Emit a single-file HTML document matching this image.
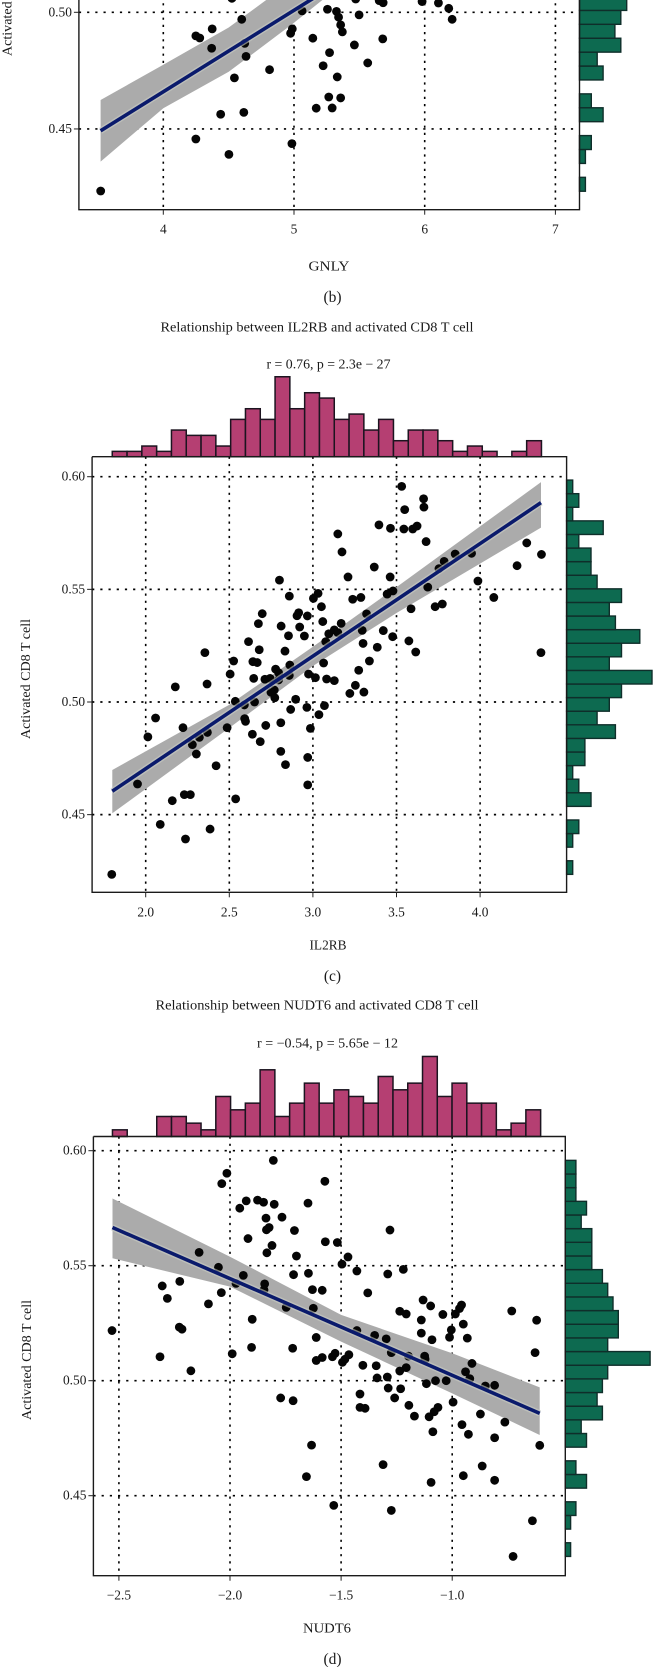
<!DOCTYPE html>
<html lang="en">
<head>
<meta charset="utf-8">
<title>Relationship between genes and activated CD8 T cell</title>
<style>
html,body{margin:0;padding:0;background:#fff;width:672px;height:1667px;overflow:hidden}
svg{display:block}
text{font-family:"Liberation Serif",serif;font-size:13.4px;fill:#1a1a1a}
</style>
</head>
<body>
<svg id="figure" xmlns="http://www.w3.org/2000/svg" width="672" height="1667" viewBox="0 0 672 1667">
<rect x="0" y="0" width="672" height="1667" fill="#ffffff"/>
</svg>
<script>
// Panel (b) GNLY
const gnlyX = [4.525,5.472,5.652,5.682,5.980,6.105,6.184,6.210,5.256,5.325,5.341,5.357,5.370,5.498,5.062,4.600,4.374,4.249,4.279,4.987,4.974,5.144,5.679,4.623,4.370,5.462,5.272,4.633,5.564,5.223,4.813,4.544,5.331,5.266,5.357,5.170,5.292,4.439,4.616,4.249,4.984,4.502,3.521];
const gnlyY = [.5060,.5057,.5050,.5041,.5046,.5040,.5017,.4970,.5013,.5004,.4979,.4946,.4916,.4989,.5006,.4970,.4929,.4899,.4890,.4929,.4910,.4889,.4886,.4867,.4846,.4860,.4827,.4811,.4783,.4771,.4754,.4719,.4723,.4637,.4633,.4589,.4590,.4563,.4571,.4457,.4437,.4391,.4234];
const gnlyXTicks = [4,5,6,7];
const gnlyXTickLabels = ["4","5","6","7"];
const gnlyYTicks = [0.45,0.50];
const gnlyYTickLabels = ["0.45","0.50"];
const gnlyFitX = [3.52,5.6];
const gnlyFitY = [.4492,.5218];
const gnlyBandX = [3.52,4,4.5,5,5.5];
const gnlyBandUpper = [.4624,.4775,.4935,.5140,.5380];
const gnlyBandLower = [.4360,.4589,.4745,.4955,.5180];
const gnlyRightHist = [1,0,1,2,0,4,2,0,4,3,7,6,7,8,9,7];

// Panel (c) IL2RB
const il2rbX = [3.531,3.662,3.664,3.549,3.395,3.464,3.544,3.597,3.623,3.149,3.677,3.174,4.279,4.367,3.851,3.949,3.785,3.754,4.221,3.367,2.800,3.210,3.462,3.987,3.687,3.479,3.444,2.859,3.031,3.003,3.238,3.287,4.082,3.051,3.774,3.731,3.587,2.697,2.915,2.905,2.967,3.321,2.674,2.810,2.921,3.059,3.169,2.854,2.949,3.095,3.128,3.149,3.295,3.421,3.477,2.615,3.077,3.574,3.300,3.385,2.679,2.833,3.615,2.354,4.364,3.064,3.338,2.526,2.641,2.667,2.862,2.777,3.274,2.795,2.505,2.974,2.859,2.646,2.713,2.744,3.015,3.082,3.128,2.367,2.177,3.254,2.795,2.769,2.749,3.221,3.305,2.772,2.897,2.536,2.651,2.590,2.964,3.069,2.867,3.036,2.059,2.592,2.597,2.808,2.718,2.223,2.487,2.985,2.013,2.369,2.321,2.638,2.685,2.279,2.808,2.303,2.969,2.421,2.836,1.951,2.969,2.159,2.231,2.267,2.538,2.087,2.385,2.238,1.797];
const il2rbY = [.5957,.5902,.5865,.5854,.5786,.5771,.5768,.5768,.5781,.5746,.5712,.5666,.5706,.5655,.5657,.5660,.5624,.5592,.5605,.5599,.5541,.5555,.5555,.5537,.5510,.5493,.5479,.5470,.5482,.5460,.5456,.5464,.5464,.5423,.5435,.5423,.5414,.5392,.5396,.5383,.5382,.5391,.5348,.5337,.5333,.5357,.5349,.5294,.5293,.5303,.5320,.5308,.5318,.5317,.5290,.5268,.5268,.5271,.5260,.5243,.5232,.5226,.5222,.5219,.5219,.5173,.5182,.5182,.5179,.5175,.5164,.5146,.5141,.5130,.5124,.5124,.5118,.5105,.5101,.5105,.5108,.5102,.5095,.5080,.5067,.5074,.5098,.5053,.5043,.5038,.5044,.5019,.5012,.5003,.5000,.4987,.4976,.4984,.4967,.4944,.4929,.4926,.4914,.4908,.4896,.4886,.4886,.4883,.4845,.4865,.4843,.4857,.4824,.4811,.4781,.4769,.4754,.4717,.4722,.4636,.4632,.4562,.4589,.4589,.4570,.4457,.4436,.4392,.4235];
const il2rbXTicks = [2,2.5,3,3.5,4];
const il2rbXTickLabels = ["2.0","2.5","3.0","3.5","4.0"];
const il2rbYTicks = [0.45,0.50,0.55,0.60];
const il2rbYTickLabels = ["0.45","0.50","0.55","0.60"];
const il2rbFitX = [1.8,4.364];
const il2rbFitY = [.4604,.5885];
const il2rbBandX = [1.8,2.5,3,3.5,4.364];
const il2rbBandUpper = [.4698,.4988,.5245,.5510,.5976];
const il2rbBandLower = [.4506,.4885,.5160,.5395,.5774];
const il2rbTopHist = [1,1,2,1,5,4,4,2,7,9,7,15,9,12,11,7,8,5,7,3,5,5,3,1,2,1,0,1,3];
const il2rbRightHist = [1,0,1,2,0,4,2,1,3,3,8,5,7,9,14,7,9,12,8,7,9,5,4,4,2,6,1,2,1];

// Panel (d) NUDT6
const nudt6X = [-1.805,-2.014,-2.037,-1.573,-1.927,-1.876,-1.849,-1.801,-1.956,-1.649,-1.766,-1.838,-1.710,-1.824,-1.836,-1.280,-1.919,-1.811,-1.571,-1.517,-1.834,-2.139,-1.701,-1.469,-1.496,-2.052,-1.429,-1.220,-1.290,-1.714,-1.647,-1.940,-2.226,-2.305,-1.973,-1.844,-1.847,-1.629,-1.585,-2.039,-1.380,-2.282,-2.097,-1.747,-1.625,-1.131,-1.097,-.958,-.967,-1.236,-1.207,-1.042,-.986,-.732,-.620,-1.139,-1.900,-.950,-2.228,-2.216,-2.531,-1.429,-1.004,-1.139,-1.349,-1.297,-1.612,-1.012,-.932,-1.091,-.627,-1.990,-2.315,-1.903,-1.718,-1.585,-1.612,-1.539,-1.527,-1.465,-1.494,-1.483,-1.274,-1.197,-1.124,-1.122,-.911,-1.402,-1.342,-1.207,-1.236,-2.176,-.940,-1.338,-1.292,-.921,-1.075,-1.027,-1.116,-1.288,-1.232,-.851,-.809,-1.415,-1.772,-1.716,-1.259,-1.195,-.996,-1.415,-1.392,-1.064,-1.081,-1.104,-1.170,-.873,-.763,-.956,-1.087,-.927,-.809,-1.633,-.606,-1.311,-.865,-1.656,-.950,-.809,-1.095,-1.533,-1.274,-.639,-.726];
const nudt6Y = [.5958,.5902,.5857,.5867,.5782,.5785,.5776,.5767,.5750,.5772,.5711,.5707,.5653,.5666,.5656,.5655,.5618,.5588,.5604,.5601,.5556,.5558,.5542,.5538,.5507,.5493,.5477,.5484,.5464,.5461,.5467,.5458,.5432,.5412,.5423,.5421,.5395,.5396,.5393,.5383,.5382,.5358,.5334,.5319,.5315,.5351,.5325,.5329,.5314,.5302,.5290,.5288,.5290,.5303,.5263,.5264,.5267,.5246,.5233,.5224,.5218,.5218,.5221,.5207,.5197,.5182,.5188,.5189,.5185,.5178,.5122,.5117,.5104,.5145,.5141,.5101,.5088,.5104,.5119,.5113,.5080,.5093,.5122,.5107,.5107,.5094,.5075,.5067,.5065,.5057,.5042,.5043,.5039,.5012,.5016,.5009,.5000,.5000,.4987,.4968,.4965,.4977,.4980,.4942,.4925,.4913,.4925,.4893,.4907,.4884,.4880,.4884,.4865,.4843,.4846,.4855,.4820,.4809,.4778,.4767,.4752,.4720,.4719,.4635,.4629,.4583,.4587,.4567,.4558,.4458,.4436,.4391,.4236];
const nudt6XTicks = [-2.5,-2,-1.5,-1];
const nudt6XTickLabels = ["−2.5","−2.0","−1.5","−1.0"];
const nudt6YTicks = [0.45,0.50,0.55,0.60];
const nudt6YTickLabels = ["0.45","0.50","0.55","0.60"];
const nudt6FitX = [-2.529,-.606];
const nudt6FitY = [.5666,.4858];
const nudt6BandX = [-2.529,-2,-1.5,-1,-.606];
const nudt6BandUpper = [.5792,.5539,.5286,.5119,.4971];
const nudt6BandLower = [.5532,.5409,.5170,.4945,.4764];
const nudt6TopHist = [1,0,0,3,3,2,1,6,4,5,10,3,5,8,5,7,6,5,9,7,8,12,6,8,5,5,1,2,4];
const nudt6RightHist = [1,0,1,2,0,4,2,0,4,3,7,6,7,8,16,8,10,10,9,8,7,5,5,5,3,4,2,2,2];

const NS = 'http://www.w3.org/2000/svg';
const figure = document.getElementById('figure');

function add(parent, tag, attrs) {
  const el = document.createElementNS(NS, tag);
  for (const k in attrs) el.setAttribute(k, attrs[k]);
  parent.appendChild(el);
  return el;
}

function label(parent, txt, x, y, anchor, width, name) {
  const t = add(parent, 'text', {x: x, y: y, 'text-anchor': anchor});
  
  
  if (width) {
    t.setAttribute('textLength', width);
    t.setAttribute('lengthAdjust', 'spacingAndGlyphs');
  }
  t.textContent = txt;
  return t;
}

function drawPanel(p) {
  const g = add(figure, 'g', {});
  
  

  const sx = v => p.xPx0 + (v - p.xVal0) * p.xPerUnit;
  const sy = v => p.yPx0 - (v - p.yVal0) * p.yPerUnit;

  // Top histogram
  if (p.topHist) {
    const w = (p.topEnd - p.topStart) / p.topHist.length;
    p.topHist.forEach((c, i) => {
      const r = add(g, 'rect', {x: sx(p.topStart + i * w), y: p.top - c * p.topUnit, width: w * p.xPerUnit, height: c * p.topUnit, fill: '#b53f72', stroke: '#1c1420', 'stroke-width': 1.5});
      
      
    });
  }

  // Right histogram
  const rh = p.rightHist;
  const binH = (p.rightEnd - p.rightStart) / p.rightBins;
  rh.forEach((c, i) => {
    const v = p.rightStart + i * binH;
    const y1 = sy(v + binH), y0 = sy(v);
    const r = add(g, 'rect', {x: p.right, y: y1, width: c * p.rightUnit, height: y0 - y1, fill: '#0d6a50', stroke: '#0f2e2a', 'stroke-width': 1.4});
    
    
  });

  // Grid
  p.xTicks.forEach(v => {
    const l = add(g, 'line', {x1: sx(v), x2: sx(v), y1: p.top, y2: p.bottom, stroke: '#000', 'stroke-width': 1.6, 'stroke-dasharray': '2.2 5'});
    
    
  });
  p.yTicks.forEach(v => {
    const l = add(g, 'line', {x1: p.left, x2: p.right, y1: sy(v), y2: sy(v), stroke: '#000', 'stroke-width': 1.7, 'stroke-dasharray': '2.2 6'});
    
    
  });

  // Confidence band
  const upper = p.bandX.map((x, i) => sx(x).toFixed(1) + ',' + sy(p.bandUpper[i]).toFixed(1));
  const lower = p.bandX.map((x, i) => sx(x).toFixed(1) + ',' + sy(p.bandLower[i]).toFixed(1)).reverse();
  const band = add(g, 'polygon', {points: upper.concat(lower).join(' '), fill: '#ababab'});
  
  

  // Points
  p.xs.forEach((x, i) => {
    const c = add(g, 'circle', {cx: sx(x), cy: sy(p.ys[i]), r: 4.4, fill: '#050505'});
    
    
  });

  // Fit line with its pale halo
  const halo = add(g, 'line', {x1: sx(p.fitX[0]), y1: sy(p.fitY[0]), x2: sx(p.fitX[1]), y2: sy(p.fitY[1]), stroke: '#c9cdc4', 'stroke-width': 6.5, opacity: 0.6});
  
  
  const fit = add(g, 'line', {x1: sx(p.fitX[0]), y1: sy(p.fitY[0]), x2: sx(p.fitX[1]), y2: sy(p.fitY[1]), stroke: '#0a1a6c', 'stroke-width': 3.6});
  
  

  // Frame
  const frame = add(g, 'path', {d: 'M' + p.left + ' ' + p.top + 'V' + p.bottom + 'H' + p.right + 'V' + p.top + (p.topHist ? 'H' + p.left : ''), fill: 'none', stroke: '#1a1a1a', 'stroke-width': 1.4});
  
  

  // Ticks + labels
  p.xTicks.forEach((v, i) => {
    const t = add(g, 'line', {x1: sx(v), x2: sx(v), y1: p.bottom, y2: p.bottom + 5, stroke: '#222', 'stroke-width': 1});
    
    
    label(g, p.xLabels[i], sx(v), p.xLabelY, 'middle', 0, 'x-tick-label');
  });
  p.yTicks.forEach((v, i) => {
    const t = add(g, 'line', {x1: p.left - 5, x2: p.left, y1: sy(v), y2: sy(v), stroke: '#222', 'stroke-width': 1});
    
    
    label(g, p.yLabels[i], p.left - 7, sy(v) + 4, 'end', 0, 'y-tick-label');
  });

  label(g, p.xTitle, p.xTitleX, p.xTitleY, 'middle', p.xTitleW, 'x-axis-title');
  const yt = label(g, 'Activated CD8 T cell', 0, 0, 'middle', 120, 'y-axis-title');
  yt.setAttribute('transform', 'translate(' + p.yTitleX + ',' + p.yTitleY + ') rotate(-90)');
  const cap = label(g, p.caption, 332.5, p.captionY, 'middle', 0, 'panel-caption');
  cap.setAttribute('style', 'font-size:15.5px');
  if (p.title) {
    label(g, p.title, p.titleX, p.titleY, 'middle', p.titleW, 'chart-title');
    label(g, p.stat, p.statX, p.statY, 'middle', p.statW, 'correlation-annotation');
  }
}

drawPanel({
  id: 'gnly', xs: gnlyX, ys: gnlyY, xTicks: gnlyXTicks, xLabels: gnlyXTickLabels, yTicks: gnlyYTicks, yLabels: gnlyYTickLabels,
  fitX: gnlyFitX, fitY: gnlyFitY, bandX: gnlyBandX, bandUpper: gnlyBandUpper, bandLower: gnlyBandLower,
  rightHist: gnlyRightHist, rightStart: .4233, rightEnd: .5187, rightBins: 16, rightUnit: 5.9,
  left: 78.9, right: 579.5, top: -40, bottom: 209.7,
  xVal0: 4, xPx0: 163.3, xPerUnit: 130.7, yVal0: .5, yPx0: 12.3, yPerUnit: 2333,
  xLabelY: 233.5, xTitle: 'GNLY', xTitleX: 329, xTitleY: 270.5, xTitleW: 41, yTitleX: 11.5, yTitleY: -4, caption: '(b)', captionY: 302
});

drawPanel({
  id: 'il2rb', xs: il2rbX, ys: il2rbY, xTicks: il2rbXTicks, xLabels: il2rbXTickLabels, yTicks: il2rbYTicks, yLabels: il2rbYTickLabels,
  fitX: il2rbFitX, fitY: il2rbFitY, bandX: il2rbBandX, bandUpper: il2rbBandUpper, bandLower: il2rbBandLower,
  topHist: il2rbTopHist, topStart: 1.8, topEnd: 4.367, topUnit: 5.33,
  rightHist: il2rbRightHist, rightStart: .4235, rightEnd: .5985, rightBins: 29, rightUnit: 6.1,
  left: 92.1, right: 566.6, top: 456.7, bottom: 892.3,
  xVal0: 2, xPx0: 145.7, xPerUnit: 167.2, yVal0: .5, yPx0: 702, yPerUnit: 2253,
  xLabelY: 916.5, xTitle: 'IL2RB', xTitleX: 328, xTitleY: 949.5, xTitleW: 37, yTitleX: 30, yTitleY: 679, caption: '(c)', captionY: 981,
  title: 'Relationship between IL2RB and activated CD8 T cell', titleX: 317, titleY: 331.5, titleW: 313,
  stat: 'r = 0.76, p = 2.3e − 27', statX: 328.5, statY: 368.5, statW: 124
});

drawPanel({
  id: 'nudt6', xs: nudt6X, ys: nudt6Y, xTicks: nudt6XTicks, xLabels: nudt6XTickLabels, yTicks: nudt6YTicks, yLabels: nudt6YTickLabels,
  fitX: nudt6FitX, fitY: nudt6FitY, bandX: nudt6BandX, bandUpper: nudt6BandUpper, bandLower: nudt6BandLower,
  topHist: nudt6TopHist, topStart: -2.529, topEnd: -.602, topUnit: 6.67,
  rightHist: nudt6RightHist, rightStart: .4236, rightEnd: .5958, rightBins: 29, rightUnit: 5.3,
  left: 93.4, right: 565.3, top: 1136.5, bottom: 1575.7,
  xVal0: -2.5, xPx0: 118.9, xPerUnit: 222.2, yVal0: .5, yPx0: 1380.7, yPerUnit: 2300,
  xLabelY: 1599.5, xTitle: 'NUDT6', xTitleX: 327, xTitleY: 1632.5, xTitleW: 48, yTitleX: 31, yTitleY: 1360, caption: '(d)', captionY: 1664,
  title: 'Relationship between NUDT6 and activated CD8 T cell', titleX: 317, titleY: 1009.5, titleW: 323,
  stat: 'r = −0.54, p = 5.65e − 12', statX: 327.5, statY: 1047.5, statW: 141
});
</script>
</body>
</html>
